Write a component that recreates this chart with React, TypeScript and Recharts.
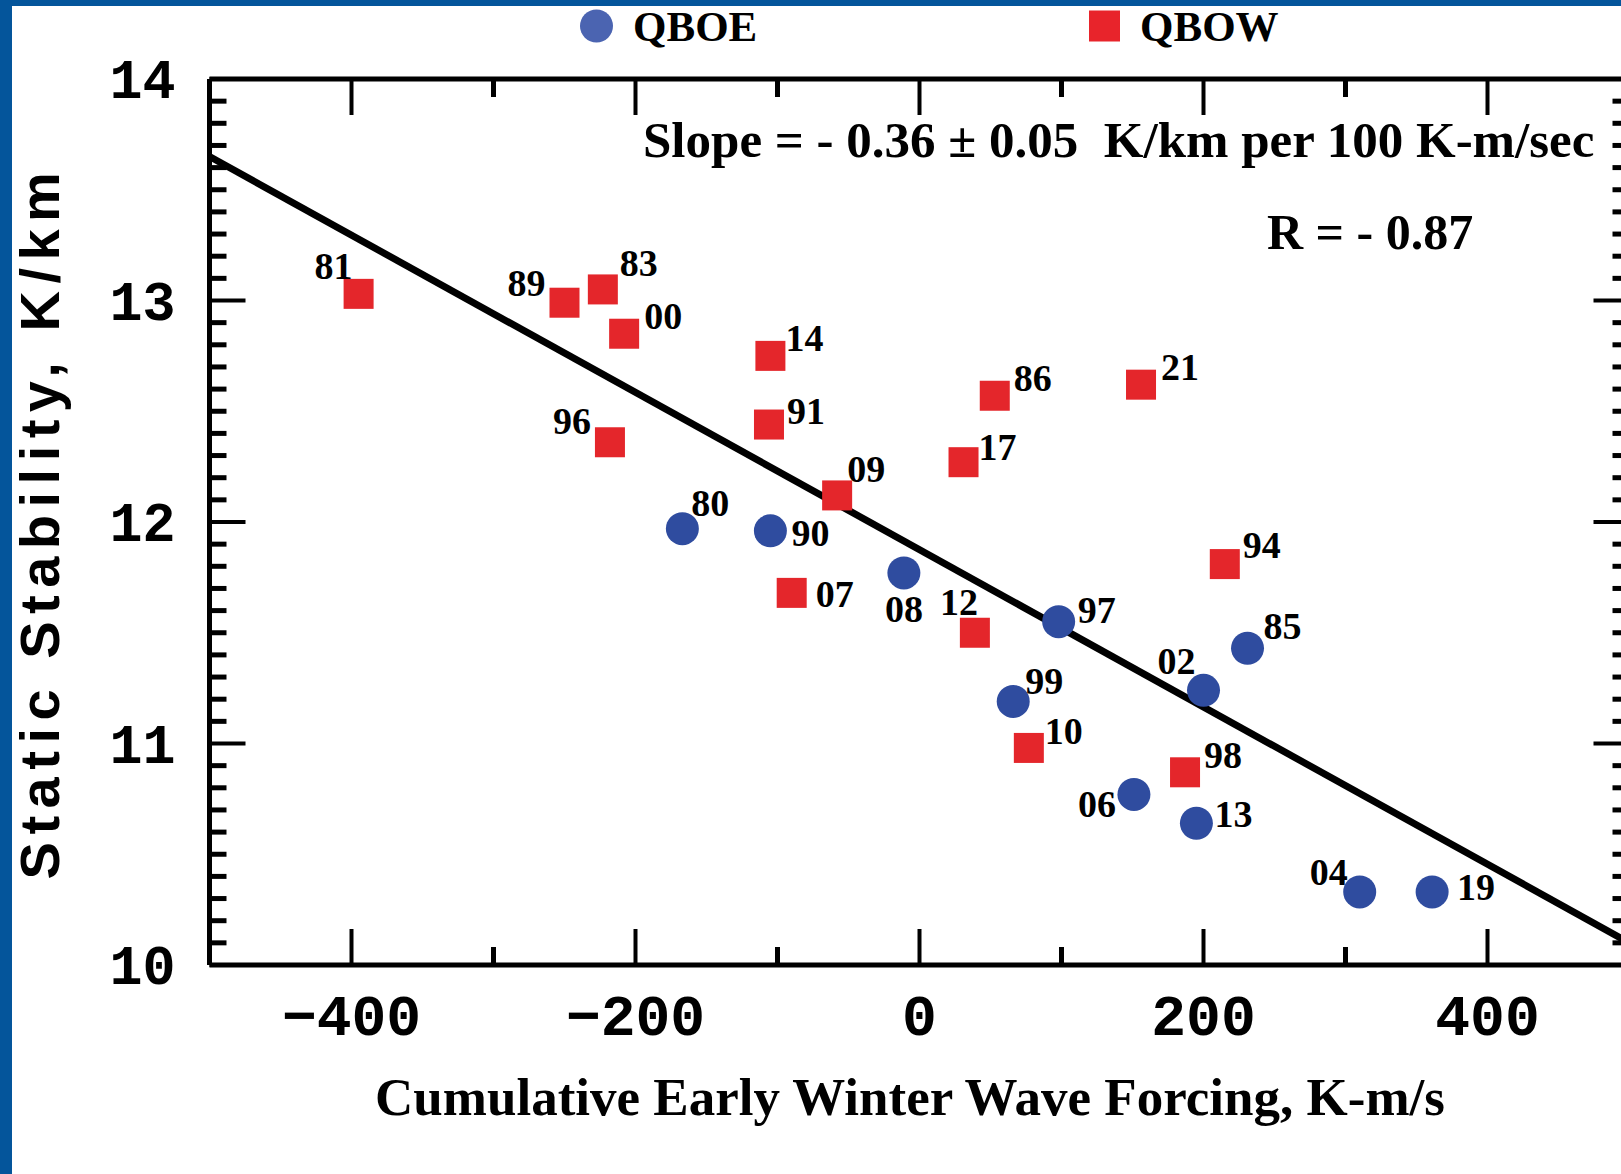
import React from "react";
import { ScatterChart, Scatter, XAxis, YAxis, Customized } from "recharts";

// QBO easterly winters (label = year)
const qboeYears = ["80", "90", "08", "97", "85", "02", "99", "06", "13", "04", "19"];
const qboeForcing = [-167, -105, -11, 98, 231, 200, 66, 151, 195, 310, 361];
const qboeStability = [11.97, 11.96, 11.77, 11.55, 11.43, 11.24, 11.19, 10.77, 10.64, 10.33, 10.33];

// QBO westerly winters
const qbowYears = ["81", "89", "83", "00", "14", "91", "96", "09", "07", "86", "21", "17", "94", "12", "10", "98"];
const qbowForcing = [-395, -250, -223, -208, -105, -106, -218, -58, -90, 53, 156, 31, 215, 39, 77, 187];
const qbowStability = [13.03, 12.99, 13.05, 12.85, 12.75, 12.44, 12.36, 12.12, 11.68, 12.57, 12.62, 12.27, 11.81, 11.5, 10.98, 10.87];

// regression line end points
const fitForcing = [-500, 500];
const fitStability = [13.65, 10.1];

const xMajorTicks = [-400, -200, 0, 200, 400];
const xMinorTicks = [-300, -100, 100, 300];
const yMajorTicks = [10, 11, 12, 13, 14];

const seriesNames = ["QBOE", "QBOW"];
const slopeText = "Slope = - 0.36 \u00b1 0.05  K/km per 100 K-m/sec";
const rText = "R = - 0.87";
const xTitle = "Cumulative Early Winter Wave Forcing, K-m/s";
const yTitle = "Static Stability, K/km";

const qboe = qboeYears.map((year, i) => ({ year, x: qboeForcing[i], y: qboeStability[i] }));
const qbow = qbowYears.map((year, i) => ({ year, x: qbowForcing[i], y: qbowStability[i] }));
const fit = fitForcing.map((x, i) => ({ x, y: fitStability[i] }));

const xTicks = [...xMajorTicks, ...xMinorTicks].sort((a, b) => a - b);
const yTicks = Array.from({ length: 41 }, (_, i) => (100 + i) / 10);

const BLUE = "#2f4c9f";
const BLUE_KEY = "#4b64b1";
const RED = "#e4262b";
const RED_KEY = "#e8242b";
const MONO = '"Liberation Mono", "Courier New", monospace';
const SANS = '"Liberation Sans", Arial, sans-serif';
const SERIF = '"Liberation Serif", "Times New Roman", serif';

// where each year label sits relative to its marker (px)
const labelOffset: Record<string, [number, number]> = {
  "81": [-25, -28], "89": [-38, -20], "83": [36, -26], "00": [39, -18],
  "14": [34, -18], "91": [37, -14], "96": [-38, -21], "09": [29, -26],
  "07": [43, 1], "86": [38, -18], "21": [39, -18], "17": [34, -15],
  "94": [37, -19], "12": [-16, -31], "10": [35, -17], "98": [38, -17],
  "80": [28, -26], "90": [40, 2], "08": [0, 36], "97": [38, -12],
  "85": [35, -22], "02": [-27, -29], "99": [31, -20], "06": [-37, 10],
  "13": [37, -9], "04": [-31, -20], "19": [44, -5],
};

const fmt = (v: number) => (v < 0 ? "\u2212" + Math.abs(v) : String(v));
const isMajorY = (v: number) => yMajorTicks.includes(v);

function YearLabel({ cx, cy, year }: any) {
  const [dx, dy] = labelOffset[year] || [30, -20];
  return (
    <text x={cx + dx} y={cy + dy + 13} textAnchor="middle" fontFamily={SERIF} fontWeight="bold" fontSize={38} fill="#000">
      {year}
    </text>
  );
}

function CircleDot(props: any) {
  const { cx, cy, payload } = props;
  return (
    <g>
      <circle cx={cx} cy={cy} r={16.5} fill={BLUE} />
      <YearLabel cx={cx} cy={cy} year={payload.year} />
    </g>
  );
}

function SquareDot(props: any) {
  const { cx, cy, payload } = props;
  return (
    <g>
      <rect x={cx - 15} y={cy - 15} width={30} height={30} fill={RED} />
      <YearLabel cx={cx} cy={cy} year={payload.year} />
    </g>
  );
}

const tickText = { fontFamily: MONO, fontWeight: "bold" as const, fill: "#000" };

function BottomTick({ x, y, payload }: any) {
  const major = xMajorTicks.includes(payload.value);
  return (
    <g>
      <line x1={x} x2={x} y1={y} y2={y - (major ? 36 : 18)} stroke="#000" strokeWidth={major ? 4 : 5} />
      {major && (
        <text x={x} y={y + 70} textAnchor="middle" fontSize={58} {...tickText}>
          {fmt(payload.value)}
        </text>
      )}
    </g>
  );
}

function TopTick({ x, y, payload }: any) {
  const major = xMajorTicks.includes(payload.value);
  return <line x1={x} x2={x} y1={y} y2={y + (major ? 36 : 18)} stroke="#000" strokeWidth={major ? 4 : 5} />;
}

function LeftTick({ x, y, payload }: any) {
  const major = isMajorY(payload.value);
  return (
    <g>
      <line x1={x} x2={x + (major ? 36 : 17)} y1={y} y2={y} stroke="#000" strokeWidth={major ? 4 : 5} />
      {major && (
        <text x={x - 34} y={y + 19} textAnchor="end" fontSize={55} {...tickText}>
          {payload.value}
        </text>
      )}
    </g>
  );
}

function RightTick({ x, y, payload }: any) {
  const major = isMajorY(payload.value);
  return <line x1={x} x2={x - (major ? 36 : 17)} y1={y} y2={y} stroke="#000" strokeWidth={major ? 4 : 5} />;
}

function Overlay() {
  return (
    <g>
      {/* legend */}
      <circle cx={596.5} cy={26} r={16.5} fill={BLUE_KEY} />
      <text x={633} y={41} fontFamily={SERIF} fontWeight="bold" fontSize={43} fill="#000">
        {seriesNames[0]}
      </text>
      <rect x={1089} y={10.5} width={31} height={31} fill={RED_KEY} />
      <text x={1140} y={41} fontFamily={SERIF} fontWeight="bold" fontSize={43} fill="#000">
        {seriesNames[1]}
      </text>
      {/* fit statistics */}
      <text x={643} y={157} fontFamily={SERIF} fontWeight="bold" fontSize={51} fill="#000" style={{ whiteSpace: "pre" }}>
        {slopeText}
      </text>
      <text x={1267} y={249} fontFamily={SERIF} fontWeight="bold" fontSize={50} fill="#000">
        {rText}
      </text>
      {/* axis titles */}
      <text x={910} y={1115} textAnchor="middle" fontFamily={SERIF} fontWeight="bold" fontSize={53} fill="#000">
        {xTitle}
      </text>
      <text
        x={59}
        y={522}
        textAnchor="middle"
        transform="rotate(-90, 59, 522)"
        fontFamily={SANS}
        fontWeight="bold"
        fontSize={56}
        letterSpacing={7.5}
        fill="#000"
      >
        {yTitle}
      </text>
    </g>
  );
}

export default function App() {
  const axisLine = { stroke: "#000", strokeWidth: 5 };
  return (
    <div
      style={{
        position: "fixed",
        left: 0,
        top: 0,
        width: 1621,
        height: 1174,
        overflow: "hidden",
        background: "#fff",
      }}
    >
      <ScatterChart width={1640} height={1174} margin={{ top: 78, right: 9.5, bottom: 208, left: 208.5 }}>
        <XAxis
          xAxisId="bottom"
          dataKey="x"
          type="number"
          domain={[-500, 500]}
          ticks={xTicks}
          interval={0}
          height={1}
          tickSize={0}
          tickMargin={0}
          axisLine={axisLine}
          tick={<BottomTick />}
        />
        <XAxis
          xAxisId="top"
          orientation="top"
          dataKey="x"
          type="number"
          domain={[-500, 500]}
          ticks={xTicks}
          interval={0}
          height={1}
          tickSize={0}
          tickMargin={0}
          axisLine={axisLine}
          tick={<TopTick />}
        />
        <YAxis
          yAxisId="left"
          dataKey="y"
          type="number"
          domain={[10, 14]}
          ticks={yTicks}
          interval={0}
          width={1}
          tickSize={0}
          tickMargin={0}
          axisLine={axisLine}
          tick={<LeftTick />}
        />
        <YAxis
          yAxisId="right"
          orientation="right"
          dataKey="y"
          type="number"
          domain={[10, 14]}
          ticks={yTicks}
          interval={0}
          width={1}
          tickSize={0}
          tickMargin={0}
          axisLine={axisLine}
          tick={<RightTick />}
        />
        <Scatter
          data={fit}
          xAxisId="top"
          yAxisId="right"
          line={{ stroke: "#000", strokeWidth: 7 }}
          shape={() => <g />}
          isAnimationActive={false}
        />
        <Scatter name="QBOE" data={qboe} xAxisId="bottom" yAxisId="left" shape={<CircleDot />} isAnimationActive={false} />
        <Scatter name="QBOW" data={qbow} xAxisId="bottom" yAxisId="left" shape={<SquareDot />} isAnimationActive={false} />
        <Customized component={<Overlay />} />
      </ScatterChart>
      <div style={{ position: "absolute", left: 0, top: 0, width: 1621, height: 6, background: "#04559b" }} />
      <div style={{ position: "absolute", left: 0, top: 0, width: 12, height: 1174, background: "#04559b" }} />
    </div>
  );
}
